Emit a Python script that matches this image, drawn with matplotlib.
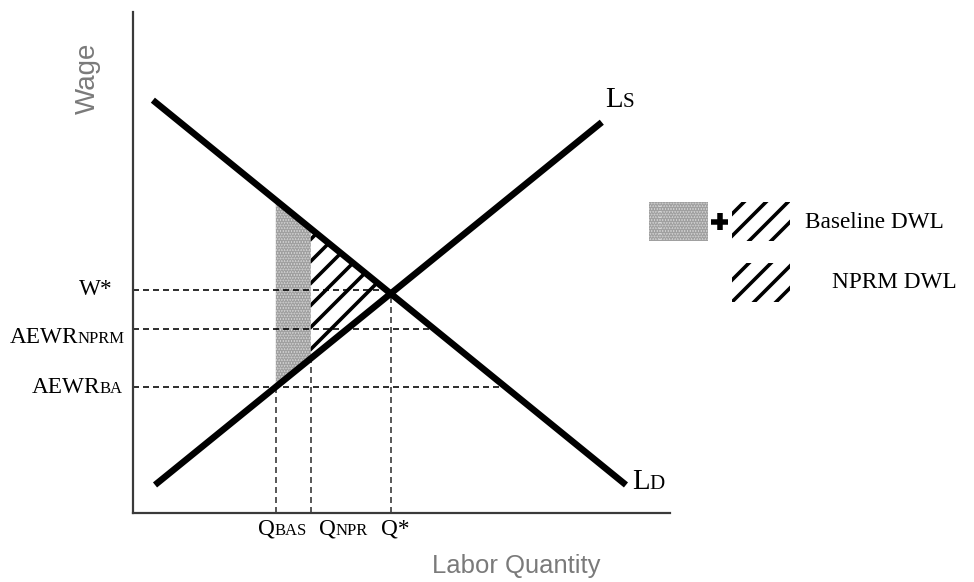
import numpy as np
import matplotlib
matplotlib.use('Agg')
import matplotlib.pyplot as plt
from matplotlib.patches import Rectangle

DPI = 66
W_PX, H_PX = 974, 582

# labour demand / supply (quantity, wage), axes run 0..100
ld_q = [3.7, 91.8]
ld_w = [82.4, 5.6]
ls_q = [4.1, 87.3]
ls_w = [5.6, 78.0]

q_star = 48.0
w_star = 44.6
q_bas = 26.6
q_npr = 33.1
aewr_nprm = 36.7
aewr_ba = 25.2

wage_levels = [w_star, aewr_nprm, aewr_ba]
wage_labels = [('W*', ''), ('AEWR', 'NPRM'), ('AEWR', 'BA')]
qty_levels = [q_bas, q_npr, q_star]
qty_labels = [('Q', 'BAS'), ('Q', 'NPR'), ('Q*', '')]
legend_labels = ['Baseline DWL', 'NPRM DWL']


def pt(px):
  # pixels -> points at the output dpi
  return px * 72.0 / DPI


plt.rcParams['font.family'] = ['Liberation Serif', 'DejaVu Serif']
plt.rcParams['hatch.linewidth'] = pt(3.6)
plt.rcParams['lines.scale_dashes'] = False

fig = plt.figure(figsize=(W_PX / DPI, H_PX / DPI), dpi=DPI)

# overlay in pixel units for axis titles and legend (behind the chart)
lay = fig.add_axes([0, 0, 1, 1], zorder=-1)
lay.set_xlim(0, W_PX)
lay.set_ylim(H_PX, 0)
lay.axis('off')

ax = fig.add_axes([133 / W_PX, (H_PX - 513) / H_PX, (670 - 133) / W_PX, (513 - 12) / H_PX])
ax.set_facecolor('none')
ax.set_xlim(0, 100)
ax.set_ylim(0, 100)
ax.set_xticks([])
ax.set_yticks([])
for s in ['top', 'right']:
  ax.spines[s].set_visible(False)
for s in ['left', 'bottom']:
  ax.spines[s].set_linewidth(pt(2.2))
  ax.spines[s].set_color('#3a3a3a')

def on_ld(q):
  return np.interp(q, ld_q, ld_w)

def on_ls(q):
  return np.interp(q, ls_q, ls_w)

DOT_FACE, DOT_EDGE = '#d6d6d6', '#a0a0a0'

# deadweight loss areas
xb = np.array([q_bas, q_npr])
ax.fill_between(xb, on_ls(xb), on_ld(xb), facecolor=DOT_FACE, lw=0, zorder=1)
ax.fill_between(xb, on_ls(xb), on_ld(xb), facecolor='none', edgecolor=DOT_EDGE,
                hatch='....', lw=0, zorder=1)
xn = np.array([q_npr, q_star])
ax.fill_between(xn, on_ls(xn), on_ld(xn), facecolor='none', edgecolor='black',
                hatch='/', lw=0, zorder=1)

# guide lines
dash = dict(color='black', lw=pt(1.6), dashes=(pt(6), pt(4)), zorder=2)
ax.plot([0, q_star], [w_star, w_star], **dash)
for w in [aewr_nprm, aewr_ba]:
  q_end = np.interp(w, ld_w[::-1], ld_q[::-1])
  ax.plot([0, q_end], [w, w], **dash)
for q in qty_levels:
  ax.plot([q, q], [0, on_ls(q)], **dict(dash, color='#333333'))

# curves
ax.plot(ld_q, ld_w, color='black', lw=pt(6.5), solid_capstyle='butt', zorder=3)
ax.plot(ls_q, ls_w, color='black', lw=pt(6.5), solid_capstyle='butt', zorder=3)


def sub_label(xy, main, sub, dx, dy, big, small, ha='left'):
  off = (pt(dx), pt(dy))
  if ha == 'left':
    m = ax.annotate(main, xy, xytext=off, textcoords='offset points',
                    ha='left', va='baseline', fontsize=big, annotation_clip=False)
    if sub:
      ax.annotate(sub, (1, xy[1]), xycoords=(m, 'data'), xytext=(0, pt(dy)),
                  textcoords='offset points', ha='left', va='baseline',
                  fontsize=small, annotation_clip=False)
  else:
    if sub:
      s = ax.annotate(sub, xy, xytext=off, textcoords='offset points',
                      ha='right', va='baseline', fontsize=small, annotation_clip=False)
      ax.annotate(main, (0, xy[1]), xycoords=(s, 'data'), xytext=(0, pt(dy)),
                  textcoords='offset points', ha='right', va='baseline',
                  fontsize=big, annotation_clip=False)
    else:
      ax.annotate(main, xy, xytext=off, textcoords='offset points',
                  ha='right', va='baseline', fontsize=big, annotation_clip=False)


big, small = pt(23.3), pt(16.7)
wage_dx = [-20, -8, -10]
wage_dy = [-5, -14, -6]
for (m, s), w, dx, dy in zip(wage_labels, wage_levels, wage_dx, wage_dy):
  sub_label((0, w), m, s, dx, dy, big, small, ha='right')

qty_dx = [-18, 8, -10]
for (m, s), q, dx in zip(qty_labels, qty_levels, qty_dx):
  sub_label((q, 0), m, s, dx, -22, big, small)

sub_label((ls_q[1], ls_w[1]), 'L', 'S', 3, 15, pt(28.9), pt(21.1))
sub_label((ld_q[1], ld_w[1]), 'L', 'D', 6, -4, pt(28.9), pt(21.1))

lay.text(88, 78, 'Wage', rotation=90, ha='center', va='center', fontsize=pt(27.8),
         family='Liberation Sans', color='#7a7a7a')
lay.text(432, 566, 'Labor Quantity', ha='left', va='center', fontsize=pt(25.6),
         family='Liberation Sans', color='#7a7a7a')

lay.add_patch(Rectangle((649, 202), 59, 39, facecolor=DOT_FACE, lw=0))
lay.add_patch(Rectangle((649, 202), 59, 39, facecolor='none', edgecolor=DOT_EDGE,
                        hatch='....', lw=0))
lay.plot([711, 728], [221.5, 221.5], color='black', lw=pt(5.5), solid_capstyle='butt')
lay.plot([719.5, 719.5], [213, 230], color='black', lw=pt(5.5), solid_capstyle='butt')
lay.add_patch(Rectangle((732, 202), 58, 39, facecolor='none', edgecolor='black',
                        hatch='/', lw=0))
lay.add_patch(Rectangle((732, 263), 58, 39, facecolor='none', edgecolor='black',
                        hatch='/', lw=0))
lay.text(805, 228, legend_labels[0], ha='left', va='baseline', fontsize=big)
lay.text(832, 288, legend_labels[1], ha='left', va='baseline', fontsize=big)

fig.savefig('out.png', dpi=DPI, facecolor='white')
